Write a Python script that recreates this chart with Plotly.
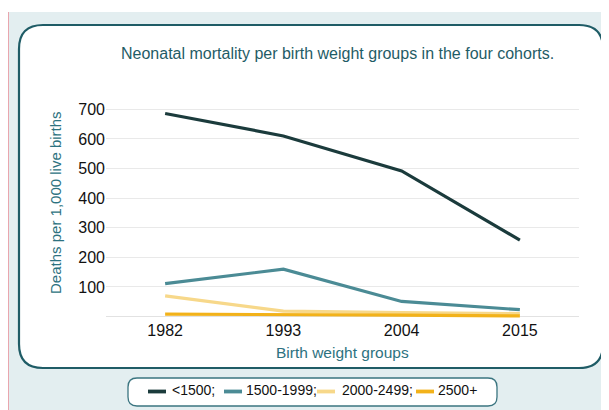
import plotly.graph_objects as go

# ---- data ----
years = ["1982", "1993", "2004", "2015"]
series_names = ["<1500;", "1500-1999;", "2000-2499;", "2500+"]
vals_lt1500 = [686, 610, 492, 258]
vals_1500_1999 = [111, 160, 51, 23]
vals_2000_2499 = [70, 18, 13, 10]
vals_2500p = [8, 7, 5, 2]
y_ticks = [100, 200, 300, 400, 500, 600, 700]

series_vals = [vals_lt1500, vals_1500_1999, vals_2000_2499, vals_2500p]
colors = ["#1b3b3c", "#4b8b95", "#f7d88a", "#f2b21a"]

OFF = 8  # page body margin
W, H = 609, 410
L, R, T, B = 98, 38, 95, 99
PW, PH = W - L - R, H - T - B


def px(x):
    return (x - OFF - L) / PW


def py(y):
    return (H - B - (y - OFF)) / PH


def rrect(x0, y0, x1, y1, r):
    pts = [
        ("M", [(x0 + r, y0)]),
        ("L", [(x1 - r, y0)]),
        ("Q", [(x1, y0), (x1, y0 + r)]),
        ("L", [(x1, y1 - r)]),
        ("Q", [(x1, y1), (x1 - r, y1)]),
        ("L", [(x0 + r, y1)]),
        ("Q", [(x0, y1), (x0, y1 - r)]),
        ("L", [(x0, y0 + r)]),
        ("Q", [(x0, y0), (x0 + r, y0)]),
    ]
    s = ""
    for cmd, ps in pts:
        s += cmd + " ".join(f"{px(a):.5f},{py(b):.5f}" for a, b in ps) + " "
    return s + "Z"


fig = go.Figure()
for name, vals, col in zip(series_names, series_vals, colors):
    fig.add_trace(go.Scatter(
        x=years, y=vals, mode="lines", name=name,
        line=dict(color=col, width=3.2),
        showlegend=False,
    ))

shapes = [
    dict(type="rect", xref="paper", yref="paper", x0=px(8), x1=px(W + 10),
         y0=py(12), y1=py(H + 10), fillcolor="#e3eef0", line=dict(width=0),
         layer="below"),
    dict(type="line", xref="paper", yref="paper", x0=px(8.5), x1=px(8.5),
         y0=py(12), y1=py(H + 10), line=dict(color="#e9a6ae", width=1),
         layer="below"),
    dict(type="path", xref="paper", yref="paper", path=rrect(19, 25, 603, 368, 24),
         fillcolor="#ffffff", line=dict(color="#1f5c66", width=2.2), layer="below"),
    dict(type="path", xref="paper", yref="paper", path=rrect(128, 378, 497, 406, 9),
         fillcolor="#ffffff", line=dict(color="#3b7580", width=1.3), layer="below"),
]

annotations = [
    dict(text="Neonatal mortality per birth weight groups in the four cohorts.",
         xref="paper", yref="paper", x=px(337), y=py(53), xanchor="center",
         yanchor="middle", showarrow=False,
         font=dict(size=16, color="#1f5c66")),
    dict(text="Deaths per 1,000 live births", xref="paper", yref="paper",
         x=px(55), y=py(203), xanchor="center", yanchor="middle", textangle=-90,
         showarrow=False, font=dict(size=15, color="#2d7280")),
    dict(text="Birth weight groups", xref="paper", yref="paper",
         x=px(342), y=py(352), xanchor="center", yanchor="middle",
         showarrow=False, font=dict(size=15.5, color="#2d7280")),
]

leg_line_x = [(148, 166), (224, 242), (317, 335), (416, 434)]
leg_text_x = [170, 244, 340, 436]
for (a, b), tx, name, col in zip(leg_line_x, leg_text_x, series_names, colors):
    shapes.append(dict(type="line", xref="paper", yref="paper", x0=px(a), x1=px(b),
                       y0=py(391.5), y1=py(391.5), line=dict(color=col, width=3.8)))
    annotations.append(dict(text=name, xref="paper", yref="paper", x=px(tx),
                            y=py(390), xanchor="left", yanchor="middle",
                            showarrow=False, font=dict(size=14, color="#111111")))

fig.update_layout(
    width=W, height=H,
    margin=dict(l=L, r=R, t=T, b=B, pad=0),
    paper_bgcolor="#ffffff",
    plot_bgcolor="rgba(0,0,0,0)",
    font=dict(family="Liberation Sans, Arial, sans-serif", color="#111111"),
    shapes=shapes,
    annotations=annotations,
    showlegend=False,
    xaxis=dict(type="category", range=[-0.5, 3.5], showgrid=False,
               showline=False, zeroline=False, ticks="",
               tickfont=dict(size=16, color="#111111")),
    yaxis=dict(range=[-8.4, 721.3], tickvals=y_ticks, showgrid=True,
               gridcolor="#e9e9e9", gridwidth=1, zeroline=True,
               zerolinecolor="#e2e2e2", zerolinewidth=1.2, showline=False,
               ticks="", tickfont=dict(size=16, color="#111111")),
)

fig.write_html("out.html")
